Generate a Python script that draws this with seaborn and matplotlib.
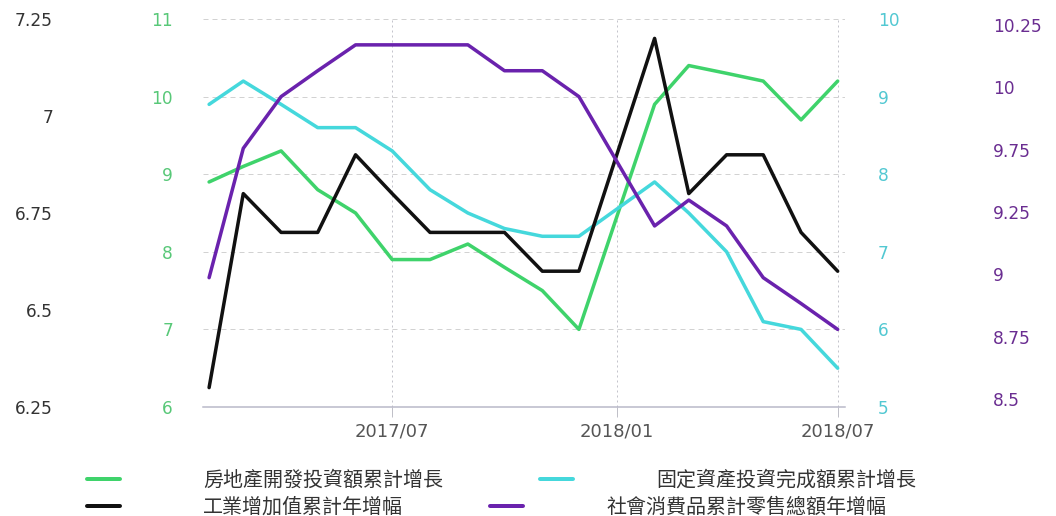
import pandas as pd
import numpy as np
import matplotlib.pyplot as plt
import matplotlib.dates as mdates
from matplotlib.lines import Line2D
from matplotlib.ticker import FuncFormatter
import seaborn as sns

# monthly cumulative data (Jan figures are merged into Feb)
months = ["2017-02", "2017-03", "2017-04", "2017-05", "2017-06", "2017-07",
          "2017-08", "2017-09", "2017-10", "2017-11", "2017-12",
          "2018-02", "2018-03", "2018-04", "2018-05", "2018-06", "2018-07"]
real_estate = [8.9, 9.1, 9.3, 8.8, 8.5, 7.9, 7.9, 8.1, 7.8, 7.5, 7.0,
               9.9, 10.4, 10.3, 10.2, 9.7, 10.2]
fixed_asset = [8.9, 9.2, 8.9, 8.6, 8.6, 8.3, 7.8, 7.5, 7.3, 7.2, 7.2,
               7.9, 7.5, 7.0, 6.1, 6.0, 5.5]
industrial = [6.3, 6.8, 6.7, 6.7, 6.9, 6.8, 6.7, 6.7, 6.7, 6.6, 6.6,
              7.2, 6.8, 6.9, 6.9, 6.7, 6.6]
retail = [9.5, 10.0, 10.2, 10.3, 10.4, 10.4, 10.4, 10.4, 10.3, 10.3, 10.2,
          9.7, 9.8, 9.7, 9.5, 9.4, 9.3]

names = ["房地產開發投資額累計增長", "固定資產投資完成額累計增長",
         "工業增加值累計年增幅", "社會消費品累計零售總額年增幅"]

green_ticks = [6, 7, 8, 9, 10, 11]
cyan_ticks = [5, 6, 7, 8, 9, 10]
black_ticks = [6.25, 6.5, 6.75, 7, 7.25]
purple_labels = ["8.5", "8.75", "9", "9.25", "9.75", "10", "10.25"]
date_ticks = ["2017-07-01", "2018-01-01", "2018-07-01"]

GREEN, CYAN, BLACK, PURPLE = "#3fd36b", "#45d8dc", "#111111", "#6a22ad"

sns.set_theme(style="white")
plt.rcParams['font.family'] = ['DejaVu Sans', 'Noto Sans CJK TC']

df = pd.DataFrame({"month": pd.to_datetime(months), "real_estate": real_estate,
                   "fixed_asset": fixed_asset, "industrial": industrial,
                   "retail": retail})

W, H = 1056, 516
fig = plt.figure(figsize=(W / 72, H / 72), dpi=72)
ax = fig.add_axes([203 / W, (H - 407) / H, 642 / W, 388 / H])
ax_cyan = ax.twinx()
ax_black = ax.twinx()
ax_purple = ax.twinx()

sns.lineplot(data=df, x="month", y="real_estate", ax=ax, color=GREEN, linewidth=3.5)
sns.lineplot(data=df, x="month", y="fixed_asset", ax=ax_cyan, color=CYAN, linewidth=3.5)
sns.lineplot(data=df, x="month", y="industrial", ax=ax_black, color=BLACK, linewidth=3.5)
sns.lineplot(data=df, x="month", y="retail", ax=ax_purple, color=PURPLE, linewidth=3.5)

for a in (ax, ax_cyan, ax_black, ax_purple):
    a.set_xlabel("")
    a.set_ylabel("")
    for s in a.spines.values():
        s.set_visible(False)

# green axis (left, inner)
ax.set_ylim(6, 11)
ax.set_yticks(green_ticks)
ax.tick_params(axis="y", length=0, pad=30, labelsize=17, labelcolor="#58c878")

# black axis (left, outer)
ax_black.yaxis.tick_left()
ax_black.spines["left"].set_position(("outward", 145))
ax_black.set_ylim(6.25, 7.25)
ax_black.set_yticks(black_ticks)
ax_black.yaxis.set_major_formatter(FuncFormatter(lambda v, p: f"{v:g}"))
ax_black.tick_params(axis="y", length=0, pad=5, labelsize=17, labelcolor="#333333")

# cyan axis (right, inner)
ax_cyan.set_ylim(5, 10)
ax_cyan.set_yticks(cyan_ticks)
ax_cyan.tick_params(axis="y", length=0, pad=33, labelsize=17, labelcolor="#52c8d2")

# purple axis (right, outer)
ax_purple.spines["right"].set_position(("outward", 143))
ax_purple.set_ylim(9.0, 10.5)
ax_purple.set_yticks(np.linspace(9.031, 10.477, len(purple_labels)))
ax_purple.set_yticklabels(purple_labels)
ax_purple.tick_params(axis="y", length=0, pad=5, labelsize=17, labelcolor="#6a2d91")

# x axis
ax.spines["bottom"].set_visible(True)
ax.spines["bottom"].set_color("#b8b8c8")
ax.spines["bottom"].set_linewidth(1.5)
ax.set_xticks(pd.to_datetime(date_ticks))
ax.xaxis.set_major_formatter(mdates.DateFormatter("%Y/%m"))
ax.tick_params(axis="x", bottom=True, length=10, width=1, color="#c0c0c8",
               pad=6, labelsize=18, labelcolor="#555555")
ax.set_xlim(df["month"].iloc[0] - pd.Timedelta(days=5),
            df["month"].iloc[-1] + pd.Timedelta(days=6))

ax.grid(axis="y", linestyle=(0, (5, 4)), color="#d2d2d2", linewidth=1)
ax.grid(axis="x", linestyle=(0, (2, 3)), color="#c4c4cc", linewidth=1)

# legend entries placed like the original two-row layout
entries = [(names[0], GREEN, 87, 480), (names[1], CYAN, 540, 480),
           (names[2], BLACK, 87, 507), (names[3], PURPLE, 490, 507)]
for label, col, x, y in entries:
    fig.legend(handles=[Line2D([], [], color=col, linewidth=4)], labels=[label],
               loc="center left", bbox_to_anchor=(x / W, 1 - y / H),
               frameon=False, handlelength=1.65, handletextpad=4.15,
               borderpad=0, borderaxespad=0, labelcolor="#333333",
               prop={"family": "Noto Sans CJK TC", "size": 20})

fig.savefig("out.png", dpi=72)
